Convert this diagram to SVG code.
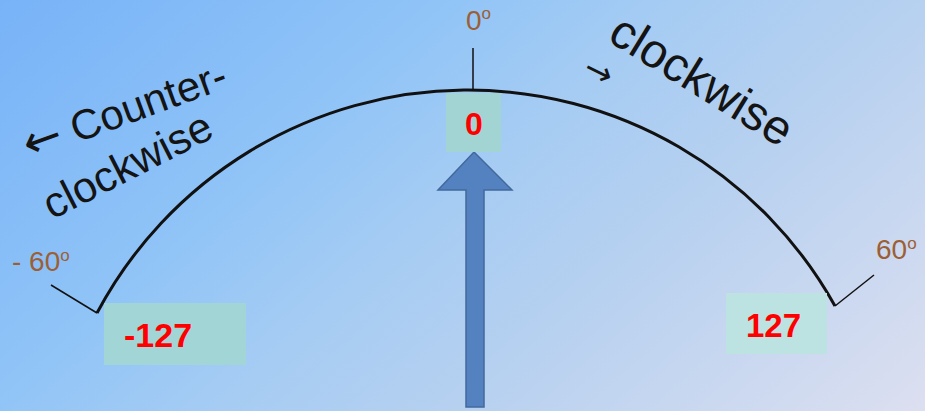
<svg xmlns="http://www.w3.org/2000/svg" width="925" height="411" viewBox="0 0 925 411">
<defs>
<linearGradient id="bg" x1="0" y1="0" x2="610" y2="689" gradientUnits="userSpaceOnUse">
<stop offset="0" stop-color="#78b3f8"/>
<stop offset="0.32" stop-color="#90c4f7"/>
<stop offset="0.49" stop-color="#a6ccf3"/>
<stop offset="0.65" stop-color="#b5d0f0"/>
<stop offset="1" stop-color="#dcdff0"/>
</linearGradient>
</defs>
<style>
.deg{font-family:"Liberation Sans",Arial,sans-serif;font-size:28px;fill:#9c5f35}
.sup{font-size:17px}
.lbl{font-family:"Liberation Sans",Arial,sans-serif;fill:#141414}
.arr{font-family:"DejaVu Sans",sans-serif}
.val{font-family:"Liberation Sans",Arial,sans-serif;font-weight:bold;fill:#ff0000}
.tick{stroke:#111;stroke-width:1.5;fill:none}
</style>
<rect width="925" height="411" fill="url(#bg)"/>
<g id="gauge">
<path d="M97,313 A420,420 0 0 1 835,306" fill="none" stroke="#111" stroke-width="3"/>
<line class="tick" x1="473" y1="48" x2="473" y2="90"/>
<line class="tick" x1="97" y1="313" x2="51" y2="285"/>
<line class="tick" x1="835" y1="306" x2="874" y2="275"/>
</g>
<g id="deg-labels">
<text class="deg" x="466" y="30" font-size="30">0<tspan class="sup" dy="-11">o</tspan></text>
<text class="deg" x="12" y="271">- 60<tspan class="sup" dy="-10">o</tspan></text>
<text class="deg" x="876" y="259">60<tspan class="sup" dy="-10">o</tspan></text>
</g>
<g id="ccw-label">
<text class="lbl" font-size="42" text-anchor="end" transform="translate(230,87) rotate(-20)"><tspan class="arr" font-size="46">←</tspan> Counter-</text>
<text class="lbl" font-size="43" transform="translate(52,220) rotate(-27)">clockwise</text>
</g>
<g id="cw-label">
<text class="lbl" font-size="48" transform="translate(606,40) rotate(31.7)">clockwise</text>
<text class="lbl arr" font-size="34" text-anchor="middle" transform="translate(599,71) rotate(26)" y="12">→</text>
</g>
<g id="pointer">
<polygon points="474,152 512,190 484,190 484,407 466,407 466,190 438,190" fill="#5482c0" stroke="#41699c" stroke-width="1.5"/>
</g>
<g id="box-zero">
<rect x="446" y="93" width="55" height="59" fill="#a3d4d4"/>
<text class="val" font-size="32" x="474" y="135" text-anchor="middle">0</text>
</g>
<g id="box-min">
<rect x="104" y="303" width="142" height="62" fill="#a2d5d6"/>
<text class="val" font-size="34" x="124" y="347">-127</text>
</g>
<g id="box-max">
<rect x="726" y="293" width="101" height="61" fill="#bde2e2"/>
<text class="val" font-size="33" x="746" y="337">127</text>
</g>
<g id="connectors"/>
</svg>
